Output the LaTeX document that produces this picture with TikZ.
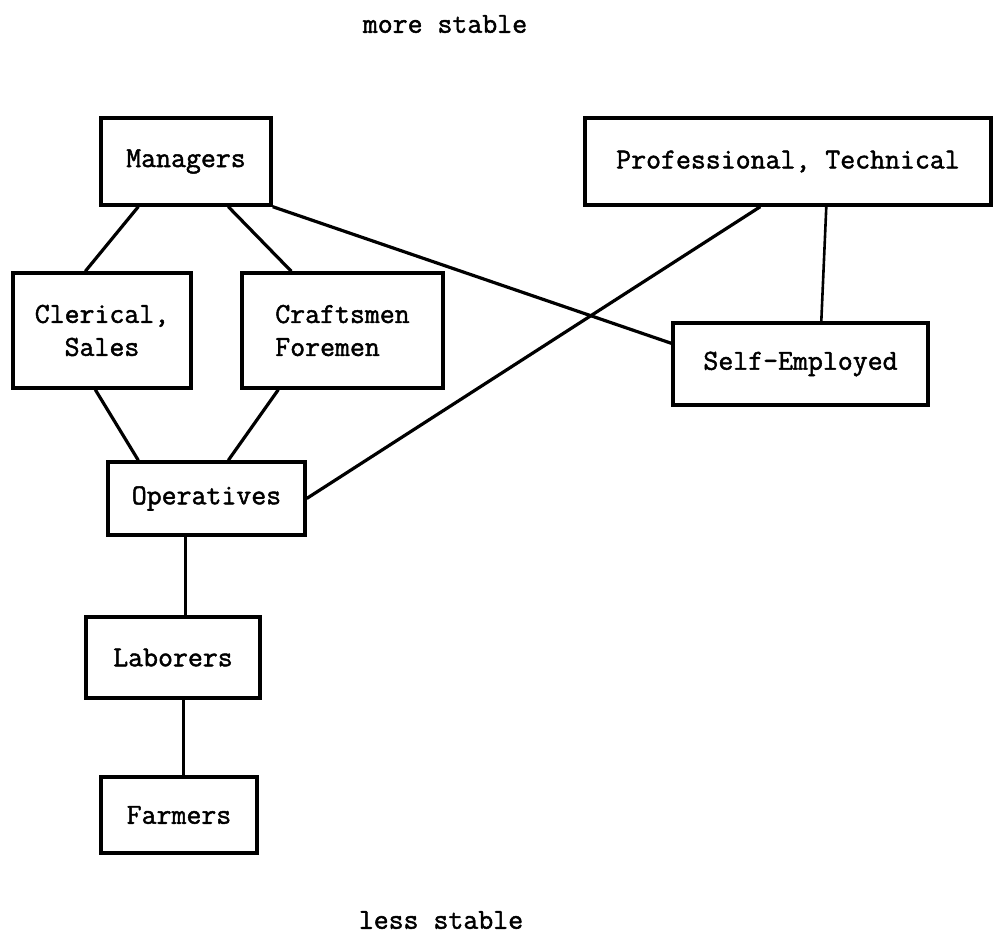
\documentclass[tikz,border=0pt]{standalone}
\usepackage{fontspec}
\newfontfamily\typew{Latin Modern Mono}[FakeBold=1.6]
\usetikzlibrary{calc}
\begin{document}
\begin{tikzpicture}[x=1pt,y=-1pt,
  occbox/.style={draw=black,line width=3.4pt,inner sep=0pt,
    font=\fontsize{29}{33}\selectfont\typew},
  link/.style={draw=black,line width=3.2pt},
  thinlink/.style={draw=black,line width=2.6pt},
  caption/.style={font=\fontsize{29}{33}\selectfont\typew,inner sep=0pt}]
\useasboundingbox (0,0) rectangle (993,936);
\node[caption] (top) at (445,24) {more stable};
\node[caption] (bot) at (441,920) {less stable};
\node[occbox,minimum width=170pt,minimum height=87pt] (mgr) at (186,161.5) {Managers};
\node[occbox,minimum width=406pt,minimum height=87pt] (prof) at (788,161.5) {Professional, Technical};
\node[occbox,minimum width=178pt,minimum height=115pt,align=center] (cler) at (102,330.5) {Clerical,\\Sales};
\node[occbox,minimum width=201pt,minimum height=115pt,align=left] (craft) at (342.5,330.5) {Craftsmen\\Foremen};
\node[occbox,minimum width=255pt,minimum height=82pt] (self) at (800.5,364) {Self-Employed};
\node[occbox,minimum width=197pt,minimum height=73pt] (ops) at (206.5,498.5) {Operatives};
\node[occbox,minimum width=174pt,minimum height=81pt] (lab) at (173,657.5) {Laborers};
\node[occbox,minimum width=156pt,minimum height=76pt] (farm) at (179,815) {Farmers};
\draw[link] ($(mgr.south west)+(39,0)$) -- ($(cler.north west)+(74,0)$);
\draw[link] ($(mgr.south west)+(129,0)$) -- ($(craft.north west)+(51,0)$);
\draw[link] (mgr.south east) -- ($(self.north west)+(0,22)$);
\draw[thinlink] ($(prof.south west)+(243,0)$) -- ($(self.north west)+(150,0)$);
\draw[link] ($(prof.south west)+(177,0)$) -- (ops.east);
\draw[link] ($(cler.south west)+(84,0)$) -- ($(ops.north west)+(32,0)$);
\draw[link] ($(craft.south west)+(38,0)$) -- ($(ops.north west)+(122,0)$);
\draw[thinlink] ($(ops.south west)+(79,0)$) -- ($(lab.north west)+(101,0)$);
\draw[thinlink] ($(lab.south west)+(99,0)$) -- ($(farm.north west)+(84,0)$);
\end{tikzpicture}
\end{document}
